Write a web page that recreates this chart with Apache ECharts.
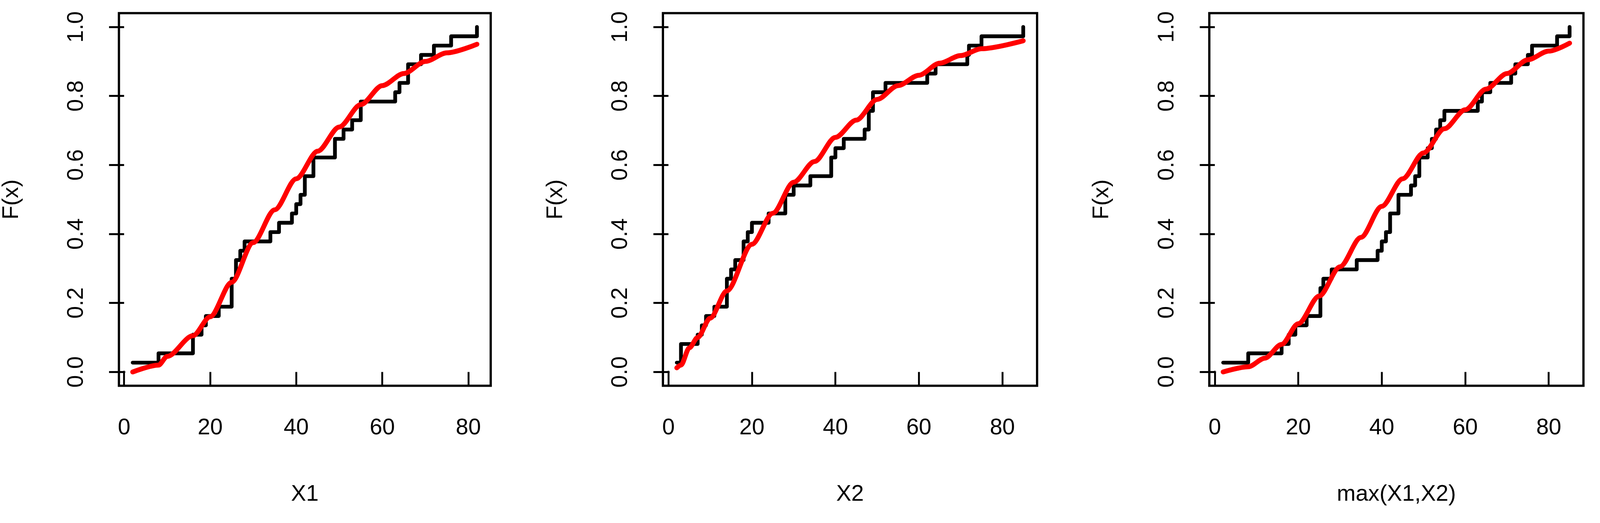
<!DOCTYPE html>
<html><head><meta charset="utf-8">
<script src="https://cdn.jsdelivr.net/npm/echarts@6/dist/echarts.min.js"></script>
<style>html,body{margin:0;padding:0;background:#fff;overflow:hidden}#c{width:100vw;height:100vh}</style>
</head><body><div id="c"></div>
<script>
const N = 37;
// panel 1: X1 ECDF jump points and cumulative counts
const x1Steps = [2,8,16,18,19,22,25,26,27,28,34,36,39,40,41,42,44,49,51,53,55,63,64,66,69,72,76,82];
const x1Counts = [1,2,4,5,6,7,10,12,13,14,15,16,17,18,19,21,23,25,26,27,29,30,31,33,34,35,36,37];
const x1FitX = [2,8,10,16,20,25,30,35,40,45,50,55,60,65,70,75,82];
const x1FitY = [0,0.02,0.045,0.105,0.16,0.26,0.375,0.47,0.56,0.64,0.71,0.775,0.83,0.865,0.9,0.925,0.95];
// panel 2: X2
const x2Steps = [2,3,7,8,9,11,14,15,16,18,19,20,24,28,30,34,39,40,42,47,48,49,52,62,64,71.6,72,75,85];
const x2Counts = [1,3,4,5,6,7,10,11,12,14,15,16,17,19,20,21,23,24,25,26,28,30,31,32,33,34,35,36,37];
const x2FitX = [2,3,5,7,10,14,20,25,30,35,40,45,50,55,60,65,70,75,85];
const x2FitY = [0.012,0.02,0.07,0.10,0.156,0.235,0.37,0.46,0.55,0.61,0.68,0.73,0.79,0.83,0.86,0.895,0.917,0.937,0.96];
// panel 3: max(X1,X2)
const x3Steps = [2,8,16,17.7,19.3,22,25.3,26,28,34,39,40,41,42,44,47,48,49,51,52,53,54,55,63,64,66,71,72,75,76,82,85];
const x3Counts = [1,2,3,4,5,6,9,10,11,12,13,14,15,17,19,20,21,23,24,25,26,27,28,29,30,31,32,33,34,35,36,37];
const x3FitX = [2,8,12,16,20,25,30,35,40,45,50,55,60,65,70,75,80,85];
const x3FitY = [0,0.015,0.04,0.08,0.14,0.22,0.305,0.39,0.48,0.56,0.635,0.705,0.76,0.82,0.865,0.905,0.93,0.953];
const xTicks = [0,20,40,60,80];
const yTicks = [0,0.2,0.4,0.6,0.8,1.0];
const titles = ['X1','X2','max(X1,X2)'];

const el = document.getElementById('c');
const s = (el.clientWidth || window.innerWidth) / 4255;
const panels = [
  {steps:x1Steps,counts:x1Counts,fx:x1FitX,fy:x1FitY,left:310,min:-1.2,max:85.2},
  {steps:x2Steps,counts:x2Counts,fx:x2FitX,fy:x2FitY,left:1763,min:-1.32,max:88.32},
  {steps:x3Steps,counts:x3Counts,fx:x3FitX,fy:x3FitY,left:3216,min:-1.32,max:88.32}
];
const font = 'Liberation Sans, Arial, sans-serif';
const fs = 60*s;
const grid=[],xAxis=[],yAxis=[],series=[];
panels.forEach((p,i)=>{
  grid.push({left:p.left*s,top:35*s,width:995*s,height:991*s,show:true,borderColor:'#000',borderWidth:6*s,backgroundColor:'transparent'});
  xAxis.push({type:'value',gridIndex:i,min:p.min,max:p.max,
    name:titles[i],nameLocation:'middle',nameGap:259*s,nameTextStyle:{fontSize:fs,fontFamily:font,color:'#000'},
    axisLine:{show:false},splitLine:{show:false},
    axisTick:{show:true,inside:false,length:39*s,customValues:xTicks,lineStyle:{color:'#000',width:5*s}},
    axisLabel:{customValues:xTicks,margin:82*s,fontSize:fs,fontFamily:font,color:'#000'}});
  yAxis.push({type:'value',gridIndex:i,min:-0.04,max:1.04,
    name:'F(x)',nameLocation:'middle',nameGap:255*s,nameRotate:90,nameTextStyle:{fontSize:fs,fontFamily:font,color:'#000'},
    axisLine:{show:false},splitLine:{show:false},
    axisTick:{show:true,length:40*s,customValues:yTicks,lineStyle:{color:'#000',width:5*s}},
    axisLabel:{customValues:yTicks,rotate:90,margin:82*s,fontSize:fs,fontFamily:font,color:'#000',formatter:v=>v.toFixed(1)}});
  series.push({type:'line',xAxisIndex:i,yAxisIndex:i,step:'end',symbol:'none',
    lineStyle:{color:'#000',width:10*s,cap:'round',join:'round'},
    data:p.steps.map((x,k)=>[x,p.counts[k]/N]),z:2});
  series.push({type:'line',xAxisIndex:i,yAxisIndex:i,smooth:0.3,smoothMonotone:'x',symbol:'none',
    lineStyle:{color:'#ff0000',width:13*s,cap:'round'},
    data:p.fx.map((x,k)=>[x,p.fy[k]]),z:3});
  series.push({type:'scatter',xAxisIndex:i,yAxisIndex:i,symbolSize:7*s,itemStyle:{color:'#000'},data:[[0,0]],z:1});
});
const chart = echarts.init(el);
chart.setOption({animation:false,backgroundColor:'#fff',grid,xAxis,yAxis,series});
</script></body></html>
